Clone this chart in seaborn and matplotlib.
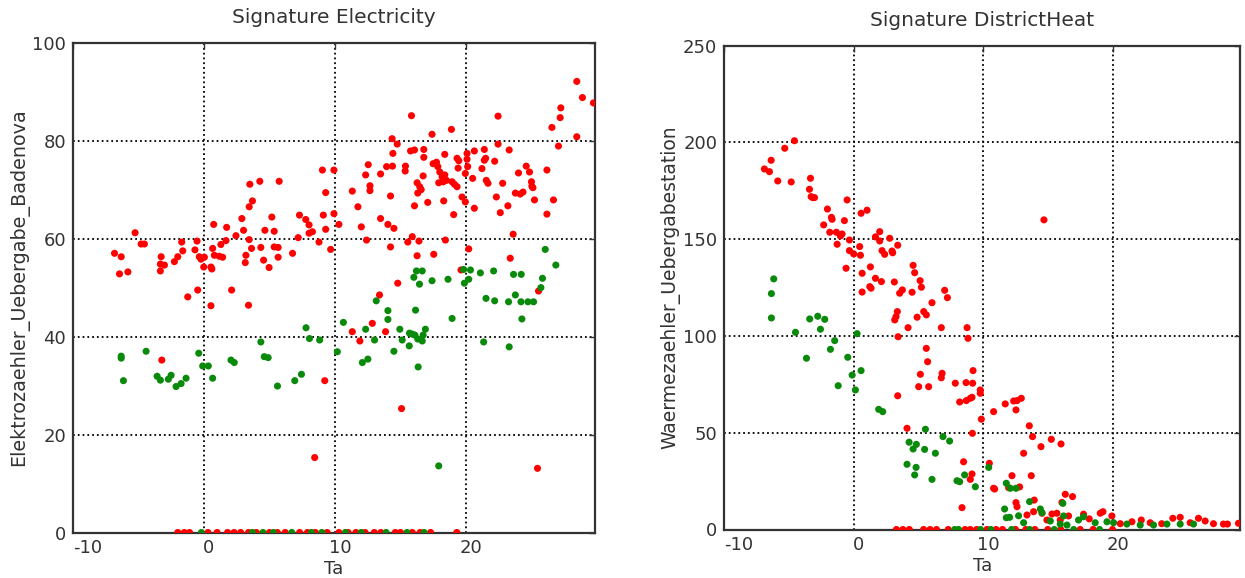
import matplotlib
matplotlib.use("Agg")
import matplotlib.pyplot as plt
import matplotlib.transforms as mtransforms
import seaborn as sns
import pandas as pd

# ---------------- data: electricity (left panel) ----------------
elec_red_ta = [-6.83, -6.32, -6.45, -5.81, -5.26, -4.8, -4.55, -3.27, -3.33, -3.02, -3.33, -2.26, -2.0, -1.70,
               -1.62, -0.69, -0.53, -0.36, -0.23, 0.03, -0.02, 0.53, 0.6, 0.66, 0.74, 0.79, 1.17, 1.42, 1.29,
               1.68, 1.73, 2.44, 2.89, 3.02, 3.2, 3.15, 3.45, 3.45, 3.7, 3.5, 4.26, 3.63, 4.34, 4.55, 4.65, 4.97,
               5.18, 5.36, 5.36, 5.66, 5.66, 5.74, 6.76, 7.19, 7.29, 7.77, 8.02, 8.02, 8.28, 8.78, 9.04, 9.29,
               9.11, 9.29, 9.67, 9.92, 9.92, 10.3, -1.24, -0.48, 0.53, 2.11, 3.40, -3.22, 9.22, 8.45,
               11.32, 11.75, 12.01, 12.41, 12.34, 12.54, 12.67, 12.67, 13.48, 13.48, 14.04, 14.24, 14.24, 14.5,
               13.94, 14.39, 14.36, 14.75, 14.42, 14.79, 15.38, 15.36, 15.84, 15.77, 16.07, 16.78, 16.78, 16.73,
               16.27, 16.47, 16.32, 16.58, 16.07, 15.56, 15.90, 16.41, 16.27, 17.08, 17.41, 17.54, 17.49, 17.75,
               17.85, 18.0, 18.18, 18.38, 17.92, 18.26, 18.51, 18.3, 18.38, 18.43, 18.89, 19.06, 18.94, 19.12,
               19.32, 19.32, 19.45, 19.4, 19.7, 19.95, 19.95, 20.08, 20.08, 20.13, 20.64, 20.51, 20.64, 20.21,
               19.62, 21.4, 21.4, 21.5, 21.22, 21.55, 21.68, 22.19, 22.32, 22.45, 22.45, 22.62, 22.8, 23.2,
               23.3, 23.6, 23.38, 23.77, 24.14, 24.35, 24.01, 24.6, 24.85, 25.0, 25.03, 25.11, 25.23, 26.18,
               26.18, 26.68, 26.56, 27.19, 27.24, 27.06, 28.46, 28.89, 29.73, 28.46, 13.4, 12.85, 11.32, 11.9,
               13.86, 25.54, 15.08, 25.46]
elec_red_kw = [57.0, 56.3, 52.8, 53.2, 61.2, 58.9, 58.9, 56.3, 54.8, 54.6, 53.4, 55.3, 56.3, 59.3,
               57.5, 57.7, 59.5, 56.3, 55.8, 56.2, 54.2, 54.2, 53.8, 58.0, 62.9, 56.6, 56.4, 56.2, 58.8,
               59.6, 62.3, 60.6, 64.1, 61.7, 56.6, 55.1, 59.8, 66.5, 67.7, 71.1, 71.7, 58.0, 58.2, 55.6, 61.7, 54.1,
               64.4, 61.5, 58.3, 58.2, 56.2, 71.7, 57.0, 60.2, 64.8, 63.9, 62.8, 61.1, 61.4, 59.3, 74.0, 69.4,
               64.8, 61.9, 57.8, 74.0, 65.1, 62.9, 48.1, 49.5, 46.3, 49.5, 46.4, 35.2, 31.0, 15.3,
               69.7, 66.5, 62.4, 59.7, 73.0, 75.1, 70.8, 69.8, 73.2, 64.1, 62.9, 58.3, 68.7, 62.1,
               74.7, 74.8, 80.4, 79.3, 77.4, 50.9, 74.8, 73.8, 85.1, 77.9, 78.1, 78.2, 76.6, 72.8,
               71.4, 70.6, 69.3, 70.0, 66.7, 59.3, 60.4, 59.5, 56.5, 67.4, 81.3, 56.8, 75.3, 75.6,
               74.7, 73.6, 72.6, 73.0, 71.4, 71.6, 71.9, 67.7, 77.2, 59.7, 82.3, 64.9, 71.6, 71.1,
               70.6, 76.4, 75.9, 74.4, 68.5, 67.5, 73.3, 77.4, 76.2, 74.7, 77.9, 72.3, 66.2, 57.9,
               53.6, 78.2, 76.0, 76.4, 74.3, 71.9, 71.3, 75.8, 68.5, 85.0, 79.3, 65.3, 71.3, 66.7,
               78.1, 60.9, 56.0, 69.3, 69.1, 69.5, 73.4, 74.8, 73.6, 71.6, 70.7, 70.4, 67.9, 74.0,
               65.0, 67.9, 82.7, 84.7, 86.7, 78.9, 92.1, 88.8, 87.7, 80.8, 48.5, 42.7, 41.0, 39.1,
               41.0, 49.3, 25.3, 13.1]

elec_green_ta = [-6.32, -6.32, -6.15, -4.42, -3.58, -3.33, -2.72, -2.51, -2.13, -1.75, -1.37, -0.40, -0.10,
                 0.33, 0.66, 2.06, 2.31, 4.34, 4.6, 4.9, 5.61, 6.93, 7.44, 7.79, 8.05, 8.83, 10.18, 10.64,
                 26.05, 26.86, 16.22, 16.66, 16.02, 16.45, 17.41, 18.63, 19.82, 19.88, 20.21, 20.34, 21.1,
                 22.11, 23.63, 24.22, 25.84, 25.72, 12.34, 13.02, 13.15, 14.04, 14.04, 12.09, 12.51, 14.5,
                 14.95, 15.13, 15.67, 15.69, 15.9, 16.1, 16.15, 16.32, 16.66, 16.73, 16.9, 16.35, 18.94,
                 17.92, 21.35, 21.53, 22.19, 23.3, 23.25, 23.77, 24.2, 24.73, 25.16, 24.27]
elec_green_kw = [36.0, 35.6, 31.0, 37.0, 31.9, 31.1, 31.3, 32.1, 29.8, 30.4, 31.5, 36.6, 34.0,
                 34.0, 31.5, 35.2, 34.7, 38.9, 35.9, 35.7, 29.9, 31.0, 32.3, 41.8, 39.6, 39.3, 36.9, 42.9,
                 57.8, 54.6, 53.4, 53.4, 52.1, 50.7, 51.4, 51.7, 53.7, 50.9, 51.7, 53.6, 53.0,
                 53.4, 52.7, 52.7, 51.9, 50.0, 41.5, 39.3, 47.3, 45.3, 43.5, 34.7, 35.4, 37.0,
                 41.5, 39.3, 38.1, 40.7, 40.5, 40.3, 45.4, 39.5, 39.1, 40.3, 41.5, 33.8, 43.7,
                 13.6, 38.9, 47.8, 47.3, 37.9, 47.1, 48.5, 47.1, 47.1, 47.1, 43.6]

# days where the electricity meter read zero
elec_zero_red_ta = [-2.0, -1.5, -1.1, 0.3, 1.0, 1.8, 2.3, 2.8, 3.4, 4.0, 5.0, 5.6, 6.2, 7.3, 7.9, 8.5, 9.4,
                    10.3, 11.0, 11.6, 12.3, 13.0, 13.5, 14.6, 15.0, 15.9, 16.5, 17.3, 19.3]
elec_zero_green_ta = [-0.2, 3.7, 4.5, 5.3, 6.7, 8.2, 9.0, 10.8, 12.0, 13.9, 15.5, 16.8]

# ---------------- data: district heat (right panel) ----------------
heat_red_ta = [-4.58, -5.33, -6.38, -6.9, -6.51, -5.87, -4.83, -3.34, -3.42, -3.29, -3.17, -3.03, -0.51,
               -2.03, -1.72, -1.67, -0.72, -2.32, -1.85, -1.34, -0.9, -1.03, -1.28, -0.33, -0.33, 0.0,
               0.46, 0.52, 0.57, 1.03, -0.59, 0.65, 1.29, 1.68, 2.01, 2.01, 2.19, 2.39, 2.78, 2.96, 3.01,
               3.4, 1.68, 1.24, 1.34, 2.14, 0.65, 3.14, 3.55, 3.76, 4.51, 4.59, 4.71, 5.13, 5.23, 6.05,
               7.03, 7.24, 3.37, 3.27, 3.17, 4.2, 4.9, 5.41, 5.61, 6.77, 8.76, 8.83, 3.43, 5.61, 5.71,
               5.15, 5.02, 5.79, 6.83, 6.77, 3.4, 7.85, 8.68, 9.19, 9.22, 8.19, 8.7, 9.01, 9.14, 9.78,
               9.78, 10.81, 9.86, 4.12, 9.17, 8.49, 9.14, 9.01, 8.37, 10.48, 10.81, 11.71, 12.36, 12.62,
               12.95, 12.54, 13.57, 13.82, 14.47, 15.27, 16.02, 13.13, 12.23, 13.72, 10.89, 11.97, 12.82,
               12.54, 12.62, 13.95, 16.35, 16.91, 16.09, 13.39, 13.9, 14.55, 15.32, 15.7, 16.6, 17.76,
               19.05, 19.26, 19.95, 21.5, 22.22, 22.91, 24.66, 25.23, 26.64, 27.16, 28.57, 28.88, 29.73,
               14.93, 15.96, 14.7, 18.2, 20.6, 23.8, 26.0, 27.8]
heat_red_kw = [200.9, 197.0, 190.8, 186.3, 184.9, 180.1, 179.6, 181.5, 175.8, 172.0, 171.5, 171.5, 170.3,
               165.6, 161.3, 160.3, 159.6, 157.4, 153.6, 153.6, 152.7, 151.7, 147.4, 149.6, 144.1, 142.4,
               146.2, 141.7, 163.4, 165.0, 135.0, 132.4, 135.7, 151.2, 153.9, 149.1, 144.1, 142.2, 150.5, 143.9, 143.0,
               146.9, 129.8, 125.5, 124.7, 128.1, 122.7, 127.9, 122.1, 123.8, 122.6, 136.5, 132.7, 128.6, 125.2, 117.2,
               123.6, 119.8, 112.6, 110.0, 108.3, 104.3, 109.7, 112.6, 110.9, 104.3, 104.3, 98.8, 99.6, 93.6, 86.7,
               80.2, 73.8, 73.8, 80.7, 78.4, 69.1, 75.6, 75.9, 75.6, 82.1, 65.9, 66.6, 67.8, 68.3, 72.1,
               70.4, 60.9, 57.0, 52.3, 49.7, 35.0, 28.7, 25.9, 11.3, 34.2, 21.3, 64.9, 66.4, 66.6,
               67.8, 61.8, 53.6, 48.0, 42.8, 46.6, 44.2, 39.4, 27.8, 27.8, 20.9, 21.6, 22.0,
               13.9, 11.8, 15.2, 18.2, 17.0, 14.0, 7.5, 9.2, 8.4, 8.0, 8.4, 7.0, 7.9,
               8.4, 9.2, 7.0, 4.0, 4.9, 3.5, 5.8, 6.3, 5.8, 4.4, 2.8, 2.8, 3.2,
               4.9, 4.9, 160.0, 5.5, 3.0, 3.0, 3.5, 3.0]

heat_green_ta = [-3.65, -1.8, -1.47, -0.46, -0.12, 0.57, -1.2, 0.13, 1.93, 2.24, 5.54, 6.9, 7.41, 4.28, 4.84,
                 4.59, 5.48, 6.31, 4.12, 4.82, 4.71, 6.05, 7.98, 8.19, 8.57, 9.4, 10.43, -6.18, -6.36, -6.36,
                 -3.4, -2.78, -2.24, -2.57, -4.5, 0.26, 11.79, 12.1, 12.54, 11.66, 11.79, 12.05, 13.59, 14.42,
                 14.55, 12.74, 16.16, 16.22, 13.13, 15.19, 15.96, 16.48, 17.37, 17.76, 18.66, 19.57, 20.08,
                 21.11, 22.14, 23.17, 24.2, 25.23, 26.26]
heat_green_kw = [88.5, 93.1, 97.6, 89.0, 79.8, 82.1, 74.3, 72.1, 62.1, 60.9, 51.8, 48.0, 45.7, 45.1, 44.0,
                 41.6, 41.4, 39.4, 33.7, 32.1, 28.2, 25.9, 25.2, 24.7, 28.2, 22.1, 32.1, 129.5, 121.9, 109.3,
                 108.8, 110.2, 108.6, 103.5, 101.9, 101.2, 23.9, 21.3, 21.3, 10.6, 6.1, 6.3, 14.4, 10.6,
                 8.7, 7.1, 13.5, 7.0, 3.5, 4.4, 2.8, 2.3, 4.9, 6.6, 3.5, 4.0, 3.5,
                 2.8, 2.3, 2.3, 2.8, 2.8, 2.8]

heat_zero_red_ta = [3.3, 3.8, 4.3, 5.4, 5.9, 6.4, 7.3, 8.6, 9.0, 9.5, 10.3, 11.0, 11.5, 12.5, 13.3, 14.0,
                    15.0, 16.0, 17.5, 18.5, 20.0]
heat_zero_green_ta = [7.8, 8.1, 9.8, 10.6, 12.2, 13.6, 15.5, 17.0, 19.0]

x_ticks = [-10, 0, 10, 20]
elec_y_ticks = [0, 20, 40, 60, 80, 100]
heat_y_ticks = [0, 50, 100, 150, 200, 250]


def frame(r_ta, r_v, g_ta, g_v, zr, zg):
    parts = [
        pd.DataFrame({"Ta": r_ta, "v": r_v, "grp": "red"}),
        pd.DataFrame({"Ta": zr, "v": [0.0] * len(zr), "grp": "red"}),
        pd.DataFrame({"Ta": g_ta, "v": g_v, "grp": "green"}),
        pd.DataFrame({"Ta": zg, "v": [0.0] * len(zg), "grp": "green"}),
    ]
    return pd.concat(parts, ignore_index=True)


df_e = frame(elec_red_ta, elec_red_kw, elec_green_ta, elec_green_kw, elec_zero_red_ta, elec_zero_green_ta)
df_h = frame(heat_red_ta, heat_red_kw, heat_green_ta, heat_green_kw, heat_zero_red_ta, heat_zero_green_ta)

sns.set_style("white")
plt.rcParams["font.family"] = ["DejaVu Sans"]
plt.rcParams["axes.unicode_minus"] = False

W, H = 1245, 578
fig = plt.figure(figsize=(W / 100, H / 100), dpi=100)
ax1 = fig.add_axes([73 / W, 1 - 532.5 / H, (595 - 73) / W, (532.5 - 42.7) / H])
ax2 = fig.add_axes([724.3 / W, 1 - 529.5 / H, (1240 - 724.3) / W, (529.5 - 45.7) / H])

pal = {"red": "#ff0000", "green": "#0a8a0a"}

panels = [
    (ax1, df_e, "Signature Electricity", "Elektrozaehler_Uebergabe_Badenova", (0, 100), elec_y_ticks, 13.8),
    (ax2, df_h, "Signature DistrictHeat", "Waermezaehler_Uebergabestation", (0, 250), heat_y_ticks, 13.5),
]
for ax, df, title, ylabel, ylim, yt, yfs in panels:
    sns.scatterplot(data=df, x="Ta", y="v", hue="grp", palette=pal, legend=False,
                    s=26, linewidth=0, ax=ax, zorder=3)
    ax.set_xlim(-10, 29.85)
    ax.set_ylim(*ylim)
    ax.set_xticks(x_ticks)
    ax.set_xticklabels([str(t) for t in x_ticks])
    ax.set_yticks(yt)
    ax.grid(True, color="black", linestyle=":", linewidth=1.3)
    ax.set_axisbelow(True)
    for sp in ax.spines.values():
        sp.set_visible(True)
        sp.set_color("#333333")
        sp.set_linewidth(1.6)
    ax.tick_params(direction="in", length=4, width=1, top=True, right=True,
                   labelsize=13, colors="#333333", labelcolor="#333333", pad=5)
    # x tick labels sit slightly right of their ticks; the first one starts at the spine
    offset = mtransforms.ScaledTranslation(5 / 100, 0, fig.dpi_scale_trans)
    for i, lab in enumerate(ax.get_xticklabels()):
        if i == 0:
            lab.set_horizontalalignment("left")
        else:
            lab.set_transform(lab.get_transform() + offset)
    ax.set_title(title, fontsize=14.5, color="#333333", pad=14)
    ax.set_xlabel("Ta", fontsize=13, color="#333333", labelpad=2)
    ax.set_ylabel(ylabel, fontsize=yfs, color="#333333", labelpad=2)

fig.savefig("out.png", dpi=100, facecolor="white")
